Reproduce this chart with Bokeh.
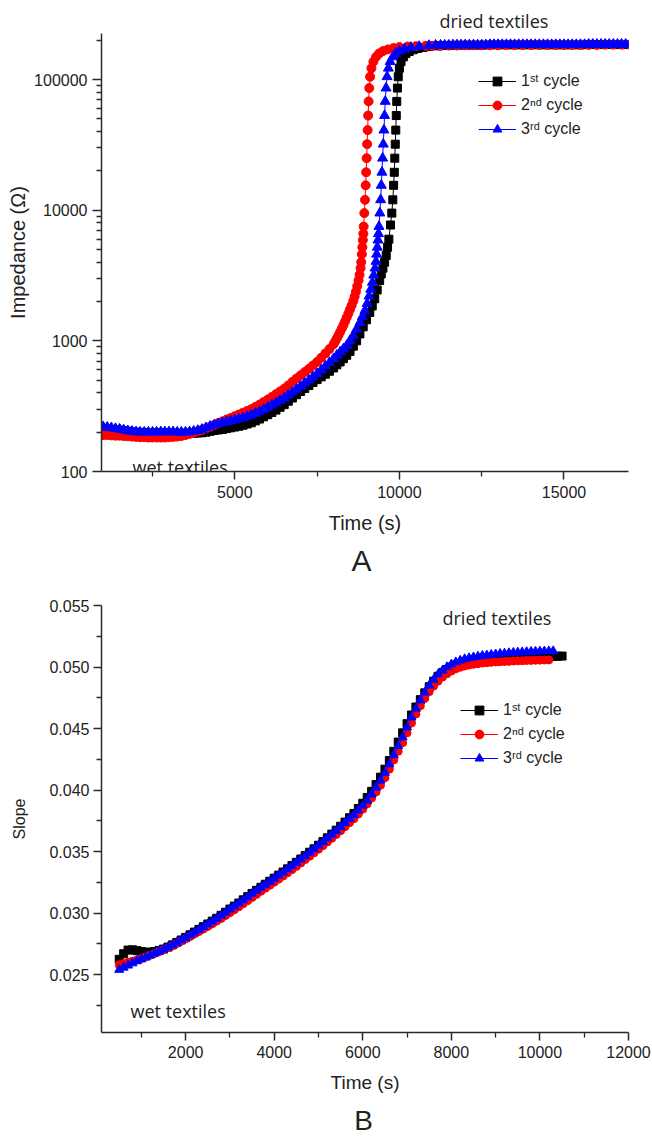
from bokeh.plotting import figure
from bokeh.models import Range1d, FixedTicker, NumeralTickFormatter, Label, Legend, LegendItem, Title
from bokeh.layouts import column
from bokeh.embed import file_html
from bokeh.resources import INLINE

# ---------------- Panel A : impedance vs time (log scale) ----------------
a_t_low = [1000, 1125, 1250, 1375, 1500, 1625, 1750, 1875, 2000, 2125,
           2250, 2375, 2500, 2625, 2750, 2875, 3000, 3125, 3250, 3375,
           3500, 3625, 3750, 3875, 4000, 4125, 4250, 4375, 4500, 4625,
           4750, 4875, 5000, 5125, 5250, 5375, 5500, 5625, 5750, 5875,
           6000, 6125, 6250, 6375, 6500, 6625, 6750, 6875, 7000, 7125,
           7250, 7375, 7500, 7625, 7750, 7875, 8000]

a_t_1st = a_t_low + [
    8100, 8200, 8300, 8400, 8500, 8600, 8700, 8800, 8900, 9000,
    9100, 9175, 9250, 9325, 9400, 9450, 9500, 9550, 9600, 9640,
    9680, 9730, 9770, 9800, 9825, 9845, 9860, 9875, 9890, 9905,
    9920, 9940, 9965, 10000, 10050, 10120, 10200, 10300, 10420, 10560,
    10720, 10900, 11100,
    11250, 11500, 11750, 12000, 12250, 12500, 12750, 13000, 13250, 13500,
    13750, 14000, 14250, 14500, 14750, 15000, 15250, 15500, 15750, 16000,
    16250, 16500, 16750, 17000]
a_z_1st = [
    212, 211, 210, 208, 207, 205, 203, 201, 200, 199,
    198, 197, 197, 197, 197, 197, 197, 196, 196, 196,
    196, 196, 196, 197, 198, 200, 203, 206, 208, 210,
    213, 216, 219, 222, 226, 231, 236, 244, 252, 262,
    272, 283, 295, 310, 325, 345, 365, 387, 410, 432,
    455, 480, 505, 530, 555, 585, 620,
    655, 690, 730, 775, 830, 910, 1000, 1130, 1280, 1450,
    1650, 1850, 2100, 2450, 2900, 3250, 3600, 4000, 4500, 5200,
    6000, 7700, 9500, 12000, 15500, 19500, 25000, 32000, 41000, 53000,
    68000, 86000, 105000, 122000, 137000, 149000, 158000, 164000, 169000, 173000,
    176000, 179000, 181000,
    182000, 182000, 183000, 183000, 183000, 183000, 184000, 184000, 184000, 184000,
    184000, 184000, 184000, 184000, 184000, 184000, 184000, 184000, 185000, 185000,
    185000, 185000, 185000, 185000]

a_t_2nd = a_t_low + [
    8050, 8100, 8150, 8200, 8250, 8300, 8350, 8400, 8450, 8500,
    8550, 8600, 8640, 8680, 8720, 8760, 8790, 8820, 8840, 8860,
    8875, 8890, 8905, 8915, 8935, 8955, 8975, 8990, 9005, 9020,
    9035, 9050, 9065, 9085, 9110, 9150, 9210, 9290, 9380, 9500,
    9650, 9820, 10000, 10250, 10500, 10800, 11000,
    11250, 11500, 11750, 12000, 12250, 12500, 12750, 13000, 13250, 13500,
    13750, 14000, 14250, 14500, 14750, 15000, 15250, 15500, 15750, 16000,
    16250, 16500, 16750, 17000]
a_z_2nd = [
    190, 190, 189, 188, 188, 187, 186, 185, 184, 183,
    183, 182, 182, 182, 182, 182, 183, 184, 185, 187,
    190, 194, 198, 203, 208, 214, 220, 227, 235, 242,
    250, 257, 265, 273, 282, 291, 300, 312, 325, 340,
    355, 372, 390, 410, 430, 456, 485, 515, 545, 577,
    610, 648, 690, 742, 800, 865, 940,
    990, 1045, 1105, 1170, 1240, 1320, 1410, 1510, 1620, 1740,
    1870, 2020, 2180, 2380, 2620, 2900, 3200, 3600, 4000, 4600,
    5200, 5900, 6600, 7500, 9500, 12000, 15500, 19500, 25000, 32000,
    41000, 53000, 68000, 86000, 105000, 122000, 137000, 149000, 158000, 165000,
    170000, 174000, 177000, 179000, 180000, 181000, 181000,
    181000, 182000, 182000, 183000, 183000, 183000, 183000, 183000, 184000, 184000,
    184000, 184000, 184000, 184000, 184000, 184000, 184000, 184000, 184000, 184000,
    185000, 185000, 185000, 185000]

a_t_3rd = a_t_low + [
    8100, 8200, 8300, 8400, 8500, 8600, 8700, 8800, 8875, 8950,
    9020, 9080, 9130, 9180, 9220, 9260, 9290, 9310, 9330, 9350,
    9365, 9380, 9405, 9430, 9450, 9470, 9490, 9510, 9530, 9550,
    9570, 9595, 9625, 9665, 9720, 9800, 9890, 10000, 10150, 10350,
    10600, 10900, 11100,
    11250, 11375, 11500, 11625, 11750, 11875, 12000, 12125, 12250, 12375,
    12500, 12625, 12750, 12875, 13000, 13125, 13250, 13375, 13500, 13625,
    13750, 13875, 14000, 14125, 14250, 14375, 14500, 14625, 14750, 14875,
    15000, 15125, 15250, 15375, 15500, 15625, 15750, 15875, 16000, 16125,
    16250, 16375, 16500, 16625, 16750, 16875, 17000]
a_z_3rd = [
    220, 218, 216, 213, 211, 208, 205, 203, 201, 200,
    200, 200, 200, 200, 201, 201, 201, 201, 200, 200,
    200, 201, 203, 206, 210, 216, 222, 227, 232, 236,
    240, 244, 248, 253, 258, 264, 270, 279, 288, 299,
    310, 322, 335, 350, 365, 384, 405, 427, 450, 475,
    500, 530, 560, 598, 640, 683, 730,
    775, 820, 868, 920, 1005, 1100, 1230, 1380, 1530, 1700,
    1930, 2200, 2480, 2800, 3180, 3600, 4050, 4600, 5200, 5900,
    6600, 7500, 9500, 12000, 15500, 19500, 25000, 32000, 41000, 53000,
    68000, 86000, 105000, 122000, 137000, 149000, 158000, 165000, 171000, 176000,
    179000, 182000, 183000,
    183000, 183000, 183000, 184000, 184000, 184000, 184000, 184000, 184000, 184000,
    184000, 184000, 185000, 185000, 185000, 185000, 185000, 185000, 185000, 185000,
    185000, 185000, 185000, 185000, 185000, 185000, 185000, 185000, 185000, 185000,
    185000, 185000, 185000, 185000, 185000, 185000, 186000, 186000, 186000, 186000,
    186000, 186000, 186000, 186000, 186000, 186000, 186000]

a_xticks = [5000, 10000, 15000]
a_xminor = [2500, 7500, 12500]
a_yticks = [100, 1000, 10000, 100000]
a_yminor = [m * d for d in (100, 1000, 10000, 100000) for m in range(2, 10)]

# ---------------- Panel B : slope vs time ----------------
b_time_3rd = [500, 600, 700, 800, 900, 1000, 1100, 1200, 1300, 1400,
              1500, 1600, 1700, 1800, 1900, 2000, 2100, 2200, 2300, 2400,
              2500, 2600, 2700, 2800, 2900, 3000, 3100, 3200, 3300, 3400,
              3500, 3600, 3700, 3800, 3900, 4000, 4100, 4200, 4300, 4400,
              4500, 4600, 4700, 4800, 4900, 5000, 5100, 5200, 5300, 5400,
              5500, 5600, 5700, 5800, 5900, 6000, 6100, 6200, 6300, 6400,
              6500, 6600, 6700, 6800, 6900, 7000, 7100, 7200, 7300, 7400,
              7500, 7600, 7700, 7800, 7900, 8000, 8100, 8200, 8300, 8400,
              8500, 8600, 8700, 8800, 8900, 9000, 9100, 9200, 9300, 9400,
              9500, 9600, 9700, 9800, 9900, 10000, 10100, 10200, 10300]
b_time_2nd = b_time_3rd[:98]
b_time_1st = b_time_3rd + [10400, 10500]

b_slope_1st = [
    0.02625, 0.02670, 0.02700, 0.02702, 0.02695, 0.02688, 0.02682, 0.02683, 0.02688, 0.02697,
    0.02708, 0.02724, 0.02742, 0.02762, 0.02782, 0.02803, 0.02824, 0.02846, 0.02868, 0.02890,
    0.02912, 0.02935, 0.02958, 0.02982, 0.03007, 0.03033, 0.03057, 0.03082, 0.03108, 0.03134,
    0.03160, 0.03185, 0.03210, 0.03235, 0.03259, 0.03284, 0.03309, 0.03334, 0.03360, 0.03386,
    0.03413, 0.03440, 0.03468, 0.03495, 0.03523, 0.03552, 0.03582, 0.03612, 0.03642, 0.03674,
    0.03706, 0.03740, 0.03775, 0.03810, 0.03850, 0.03893, 0.03940, 0.03990, 0.04045, 0.04105,
    0.04170, 0.04240, 0.04315, 0.04390, 0.04465, 0.04540, 0.04610, 0.04675, 0.04735, 0.04790,
    0.04840, 0.04885, 0.04925, 0.04955, 0.04980, 0.05000, 0.05015, 0.05026, 0.05035, 0.05042,
    0.05048, 0.05053, 0.05057, 0.05061, 0.05064, 0.05067, 0.05070, 0.05073, 0.05075, 0.05077,
    0.05079, 0.05081, 0.05082, 0.05084, 0.05085, 0.05086, 0.05087, 0.05087, 0.05088, 0.05088,
    0.05089]
b_slope_2nd = [
    0.02580, 0.02590, 0.02600, 0.02610, 0.02620, 0.02632, 0.02645, 0.02658, 0.02672, 0.02687,
    0.02702, 0.02718, 0.02735, 0.02753, 0.02772, 0.02791, 0.02810, 0.02830, 0.02850, 0.02871,
    0.02892, 0.02913, 0.02935, 0.02956, 0.02980, 0.03004, 0.03027, 0.03051, 0.03076, 0.03101,
    0.03127, 0.03152, 0.03177, 0.03202, 0.03226, 0.03251, 0.03276, 0.03301, 0.03327, 0.03353,
    0.03380, 0.03407, 0.03435, 0.03462, 0.03490, 0.03519, 0.03548, 0.03578, 0.03608, 0.03639,
    0.03670, 0.03702, 0.03735, 0.03768, 0.03805, 0.03845, 0.03888, 0.03935, 0.03985, 0.04040,
    0.04100, 0.04170, 0.04245, 0.04315, 0.04385, 0.04465, 0.04545, 0.04618, 0.04685, 0.04745,
    0.04800, 0.04845, 0.04885, 0.04918, 0.04945, 0.04967, 0.04985, 0.04998, 0.05008, 0.05016,
    0.05022, 0.05027, 0.05032, 0.05035, 0.05038, 0.05041, 0.05043, 0.05045, 0.05047, 0.05049,
    0.05050, 0.05052, 0.05053, 0.05054, 0.05055, 0.05056, 0.05057, 0.05058]
b_slope_3rd = [
    0.02540, 0.02558, 0.02575, 0.02593, 0.02610, 0.02625, 0.02640, 0.02656, 0.02672, 0.02688,
    0.02705, 0.02722, 0.02740, 0.02760, 0.02780, 0.02801, 0.02822, 0.02843, 0.02865, 0.02887,
    0.02910, 0.02932, 0.02955, 0.02980, 0.03005, 0.03030, 0.03054, 0.03079, 0.03105, 0.03131,
    0.03158, 0.03183, 0.03208, 0.03232, 0.03256, 0.03281, 0.03306, 0.03331, 0.03357, 0.03383,
    0.03410, 0.03437, 0.03465, 0.03492, 0.03520, 0.03549, 0.03578, 0.03608, 0.03638, 0.03669,
    0.03700, 0.03733, 0.03766, 0.03798, 0.03835, 0.03875, 0.03915, 0.03965, 0.04020, 0.04078,
    0.04140, 0.04210, 0.04285, 0.04358, 0.04430, 0.04510, 0.04590, 0.04662, 0.04730, 0.04793,
    0.04850, 0.04898, 0.04940, 0.04972, 0.05000, 0.05022, 0.05040, 0.05053, 0.05065, 0.05073,
    0.05080, 0.05086, 0.05092, 0.05096, 0.05100, 0.05104, 0.05108, 0.05111, 0.05114, 0.05117,
    0.05119, 0.05121, 0.05123, 0.05125, 0.05126, 0.05127, 0.05128, 0.05129, 0.05130]

b_xticks = [2000, 4000, 6000, 8000, 10000, 12000]
b_xminor = [1000, 3000, 5000, 7000, 9000, 11000]
b_yticks = [0.025, 0.030, 0.035, 0.040, 0.045, 0.050, 0.055]
b_yminor = [0.0225, 0.0275, 0.0325, 0.0375, 0.0425, 0.0475, 0.0525]

series_labels = ["1\u02e2\u1d57 cycle", "2\u207f\u1d48 cycle", "3\u02b3\u1d48 cycle"]
series_colors = ["#000000", "#ff0000", "#0000ff"]
series_markers = ["square", "circle", "triangle"]

AX = "#2a2a2a"
TXT = "#222222"


def style_axis(ax, tick_out, minor_out, label_standoff, title_standoff, title_size):
    ax.axis_line_color = AX
    ax.axis_line_width = 1.5
    ax.major_tick_line_color = AX
    ax.major_tick_line_width = 1.5
    ax.minor_tick_line_color = AX
    ax.minor_tick_line_width = 1.3
    ax.major_tick_in = 0
    ax.major_tick_out = tick_out
    ax.minor_tick_in = 0
    ax.minor_tick_out = minor_out
    ax.major_label_text_font = "Liberation Sans"
    ax.major_label_text_font_size = "16px"
    ax.major_label_text_color = TXT
    ax.major_label_standoff = label_standoff
    ax.axis_label_text_font = "Liberation Sans"
    ax.axis_label_text_font_size = title_size
    ax.axis_label_text_font_style = "normal"
    ax.axis_label_text_color = TXT
    ax.axis_label_standoff = title_standoff


def base_fig(w, h, xr, yr, borders, ytype="linear"):
    p = figure(width=w, height=h, x_range=xr, y_range=yr, y_axis_type=ytype,
               output_backend="svg", toolbar_location=None,
               min_border_left=borders[0], min_border_right=borders[1],
               min_border_top=borders[2], min_border_bottom=borders[3])
    p.xgrid.visible = False
    p.ygrid.visible = False
    p.outline_line_color = None
    p.background_fill_color = "white"
    p.border_fill_color = "white"
    return p


def add_series(p, xs_list, ys_list, sizes):
    items = []
    for xs, ys, lab, col, mk, sz in zip(xs_list, ys_list, series_labels, series_colors, series_markers, sizes):
        n = min(len(xs), len(ys))
        ln = p.line(xs[:n], ys[:n], line_color=col, line_width=1)
        sc = p.scatter(xs[:n], ys[:n], marker=mk, size=sz, fill_color=col, line_color=col)
        items.append(LegendItem(label=lab, renderers=[ln, sc]))
    return items


def add_legend(p, items, loc):
    lg = Legend(items=items, location=loc, glyph_width=38, glyph_height=22, label_height=22,
                spacing=2, padding=0, margin=0, label_standoff=5,
                border_line_color=None, background_fill_alpha=0,
                label_text_font="Liberation Sans", label_text_font_size="16px", label_text_color=TXT)
    p.add_layout(lg)


def add_text(p, x, y, txt, size, font="Open Sans", align="left", units="screen"):
    p.add_layout(Label(x=x, y=y, x_units=units, y_units=units, text=txt,
                       text_font=font, text_font_size=size, text_color=TXT,
                       text_align=align, text_baseline="alphabetic"))


def style_title(t, font, size, standoff):
    t.text_font = font
    t.text_font_size = size
    t.text_font_style = "normal"
    t.text_color = TXT
    t.standoff = standoff


# ---- figure A
pA = base_fig(652, 590, Range1d(950, 16960), Range1d(100, 225000), (99, 15, 33, 119), ytype="log")
pA.xaxis.ticker = FixedTicker(ticks=a_xticks, minor_ticks=a_xminor)
pA.yaxis.ticker = FixedTicker(ticks=a_yticks, minor_ticks=a_yminor)
pA.xaxis.formatter = NumeralTickFormatter(format="0")
pA.yaxis.formatter = NumeralTickFormatter(format="0")
pA.xaxis.axis_label = "Time (s)"
pA.yaxis.axis_label = "Impedance (\u03a9)"
style_axis(pA.xaxis[0], 8, 5, 6, 11, "20px")
style_axis(pA.yaxis[0], 9, 5, 5, 2, "20px")
itemsA = add_series(pA, [a_t_1st, a_t_2nd, a_t_3rd], [a_z_1st, a_z_2nd, a_z_3rd], [8, 9, 10])
add_legend(pA, itemsA, (377, 331))
add_text(pA, 31, 5, "wet textiles", "18px")
pA.title.text = "dried textiles"
pA.title.align = "left"
pA.title.offset = 338
style_title(pA.title, "Open Sans", "18px", 1)
tA = Title(text="A", align="left", offset=250)
style_title(tA, "Liberation Sans", "30px", 10)
pA.add_layout(tA, "below")

# ---- figure B
pB = base_fig(652, 510, Range1d(100, 12000), Range1d(0.0203, 0.055), (101, 24, 15, 68))
pB.xaxis.ticker = FixedTicker(ticks=b_xticks, minor_ticks=b_xminor)
pB.yaxis.ticker = FixedTicker(ticks=b_yticks, minor_ticks=b_yminor)
pB.xaxis.formatter = NumeralTickFormatter(format="0")
pB.yaxis.formatter = NumeralTickFormatter(format="0.000")
pB.xaxis.axis_label = "Time (s)"
pB.yaxis.axis_label = "Slope"
style_axis(pB.xaxis[0], 8, 5, 5, 11, "19px")
style_axis(pB.yaxis[0], 8, 5, 4, 18, "16px")
itemsB = add_series(pB, [b_time_1st, b_time_2nd, b_time_3rd], [b_slope_1st, b_slope_2nd, b_slope_3rd], [8, 8, 9])
add_legend(pB, itemsB, (359, 263))
add_text(pB, 341, 415, "dried textiles", "18px")
add_text(pB, 29, 22, "wet textiles", "18px")

# ---- strip holding the panel letter "B" (page pixels as data units)
pL = figure(width=652, height=39, x_range=Range1d(101, 628), y_range=Range1d(39, 0),
            output_backend="svg", toolbar_location=None, title=None,
            x_axis_location=None, y_axis_location=None,
            min_border_left=101, min_border_right=24, min_border_top=0, min_border_bottom=0)
pL.xgrid.visible = False
pL.ygrid.visible = False
pL.outline_line_color = None
add_text(pL, 363, 20, "B", "28px", font="Liberation Sans", align="center", units="data")

layout = column(pA, pB, pL, spacing=0)
open("out.html", "w").write(file_html(layout, INLINE))
